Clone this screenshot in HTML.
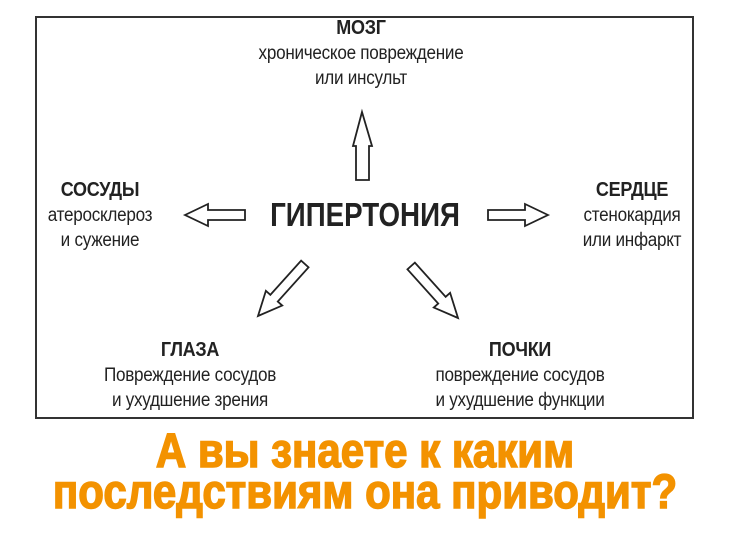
<!DOCTYPE html>
<html><head><meta charset="utf-8"><style>
body{margin:0;width:730px;height:548px;background:#fff;position:relative;overflow:hidden;font-family:"Liberation Sans",sans-serif;color:#222}
.box{position:absolute;left:35px;top:16px;width:655px;height:399px;border:2px solid #333}
.t{position:absolute;text-align:center;white-space:nowrap;transform:translateX(-50%) scaleX(.9);font-size:19px;line-height:25px;letter-spacing:-0.3px}
.t b{font-size:20px}
.o{position:absolute;left:0;width:730px;text-align:center;color:#f39200;font-weight:bold;font-size:48px;transform:scaleX(.875);-webkit-text-stroke:1.5px #f39200;letter-spacing:0}
</style></head><body>
<div class="box"></div>
<div class="t" style="left:361px;top:16px"><b>МОЗГ</b><br>хроническое повреждение<br>или инсульт</div>
<div class="t" style="left:100px;top:178px"><b>СОСУДЫ</b><br>атеросклероз<br>и сужение</div>
<div class="t" style="left:632px;top:178px"><b>СЕРДЦЕ</b><br>стенокардия<br>или инфаркт</div>
<div class="t" style="left:190px;top:338px"><b>ГЛАЗА</b><br>Повреждение сосудов<br>и ухудшение зрения</div>
<div class="t" style="left:520px;top:338px"><b>ПОЧКИ</b><br>повреждение сосудов<br>и ухудшение функции</div>
<div class="t" style="left:365px;top:197px;font-size:33px;line-height:36px;font-weight:bold;transform:translateX(-50%) scaleX(.84);letter-spacing:0">ГИПЕРТОНИЯ</div>
<svg width="730" height="548" style="position:absolute;left:0;top:0" fill="#fff" stroke="#222" stroke-width="1.8" stroke-linejoin="miter">
<polygon points="362,112 372,146 369,146 369,180 356,180 356,146 353,146"/>
<polygon points="185,215 208,204 208,210 245,210 245,220 208,220 208,226"/>
<polygon points="548,215 525,204 525,210 488,210 488,220 525,220 525,226"/>
<g transform="translate(258,316) rotate(-48)"><polygon points="0,0 24,-11 24,-5 70,-5 70,5 24,5 24,11"/></g>
<g transform="translate(458,318) rotate(-132)"><polygon points="0,0 24,-11 24,-5 70,-5 70,5 24,5 24,11"/></g>
</svg>
<div class="o" style="top:429px;line-height:46px">А вы знаете к каким</div>
<div class="o" style="top:470px;line-height:46px">последствиям она приводит?</div>
</body></html>
